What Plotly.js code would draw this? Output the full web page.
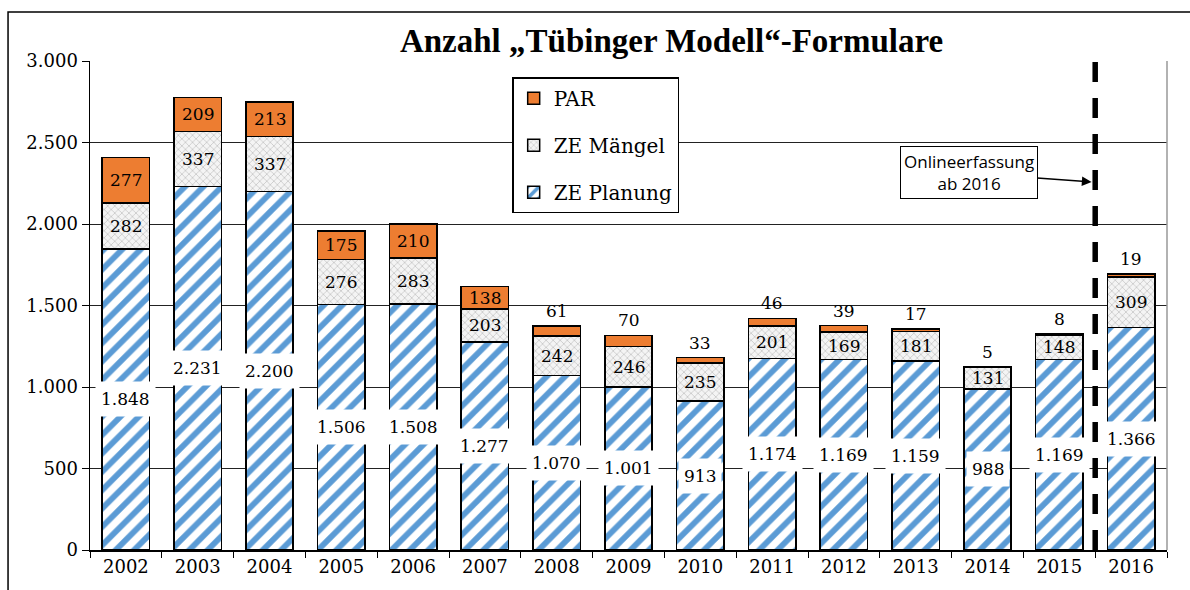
<!DOCTYPE html>
<html>
<head>
<meta charset="utf-8">
<script src="https://cdn.plot.ly/plotly-3.0.1.min.js"></script>
<style>html,body{margin:0;padding:0;background:#fff}#chart{width:1190px;height:590px}</style>
</head>
<body>
<div id="chart"></div>
<script>
const years = ["2002","2003","2004","2005","2006","2007","2008","2009","2010","2011","2012","2013","2014","2015","2016"];
const zePlanung = [1848, 2231, 2200, 1506, 1508, 1277, 1070, 1001, 913, 1174, 1169, 1159, 988, 1169, 1366];
const zeMaengel = [282, 337, 337, 276, 283, 203, 242, 246, 235, 201, 169, 181, 131, 148, 309];
const par = [277, 209, 213, 175, 210, 138, 61, 70, 33, 46, 39, 17, 5, 8, 19];
const yTicks = [0, 500, 1000, 1500, 2000, 2500, 3000];

function fmt(v){ return String(v).replace(/\B(?=(\d{3})+(?!\d))/g, "."); }

const serif = "DejaVu Serif, serif";
const lineStyle = {color: "#000", width: 1.5};

const traces = [
  {type:"bar", name:"ZE Planung", x:years, y:zePlanung, legendgroup:"a", legendrank:3,
   marker:{color:"#ffffff", line:lineStyle, pattern:{shape:"/", fgcolor:"#5B9BD5", bgcolor:"#ffffff", size:13, solidity:0.45}}},
  {type:"bar", name:"ZE Mängel", x:years, y:zeMaengel, legendgroup:"b", legendrank:2,
   marker:{color:"#ffffff", line:lineStyle, pattern:{shape:"x", fgcolor:"#C9C9C9", bgcolor:"#F4F4F4", size:5, solidity:0.3}}},
  {type:"bar", name:"PAR", x:years, y:par, legendgroup:"c", legendrank:1,
   marker:{color:"#ED7D31", line:lineStyle}}
];

const lblFont = {family:serif, size:17, color:"#000"};
const annotations = [];
years.forEach((yr, i) => {
  annotations.push({x:i, y:zePlanung[i]/2, text:fmt(zePlanung[i]), showarrow:false,
    bgcolor:"#ffffff", borderpad:5, height:24, font:lblFont});
  annotations.push({x:i, y:zePlanung[i] + zeMaengel[i]/2, text:fmt(zeMaengel[i]), showarrow:false, font:lblFont});
  const top = zePlanung[i] + zeMaengel[i];
  if (par[i] >= 100) {
    annotations.push({x:i, y:top + par[i]/2, text:fmt(par[i]), showarrow:false, font:lblFont});
  } else {
    annotations.push({x:i, y:top + par[i], yanchor:"bottom", yshift:3, text:fmt(par[i]), showarrow:false, font:lblFont});
  }
});
annotations.push({x:13.45, y:2258, xref:"x", yref:"y", ax:-123, ay:-9,
  text:"Onlineerfassung<br>ab 2016", showarrow:true, arrowhead:2, arrowsize:1.3, arrowwidth:1.5, arrowcolor:"#000",
  bgcolor:"#ffffff", bordercolor:"#000", borderwidth:1, borderpad:3,
  font:{family:"Open Sans, sans-serif", size:17, color:"#000"}});

const layout = {
  width:1190, height:590,
  margin:{l:90, r:23, t:61, b:40},
  paper_bgcolor:"#ffffff", plot_bgcolor:"#ffffff",
  separators:",.",
  barmode:"stack", bargap:0.34,
  showlegend:true,
  title:{text:"<b>Anzahl „Tübinger Modell“-Formulare</b>", x:0.54, xref:"paper", xanchor:"center",
    y:0.932, yref:"container", yanchor:"middle", font:{family:"Liberation Serif, serif", size:33, color:"#000"}},
  legend:{x:0.392, y:0.967, xanchor:"left", yanchor:"top", traceorder:"grouped", tracegroupgap:18,
    bgcolor:"#ffffff", bordercolor:"#000", borderwidth:1.5, font:{family:serif, size:20, color:"#000"}},
  xaxis:{type:"category", range:[-0.5,14.5], showline:true, linecolor:"#000", linewidth:1.5,
    ticks:"outside", ticklen:6, tickcolor:"#000", tickson:"boundaries", showgrid:false,
    tickfont:{family:serif, size:18, color:"#000"}, fixedrange:true},
  yaxis:{range:[0,3000], tickvals:yTicks, ticktext:yTicks.map(fmt), showline:true, linecolor:"#000", linewidth:1.5,
    ticks:"outside", ticklen:7, tickcolor:"#000", showgrid:true, gridcolor:"#222", gridwidth:1, zeroline:false,
    tickfont:{family:serif, size:18, color:"#000"}, fixedrange:true},
  shapes:[
    {type:"line", xref:"x", yref:"paper", x0:13.5, x1:13.5, y0:0, y1:1.013, line:{color:"#000", width:5.5, dash:"20px,16px"}},
    {type:"line", xref:"paper", yref:"paper", x0:1, x1:1, y0:0, y1:1, line:{color:"#999", width:1.5}},
    {type:"rect", xref:"paper", yref:"paper", x0:-0.0761, x1:1.03, y0:-0.12, y1:1.1002, line:{color:"#000", width:1.5}, layer:"below"}
  ],
  annotations:annotations
};

Plotly.newPlot("chart", traces, layout, {displayModeBar:false, staticPlot:true});
</script>
</body>
</html>
